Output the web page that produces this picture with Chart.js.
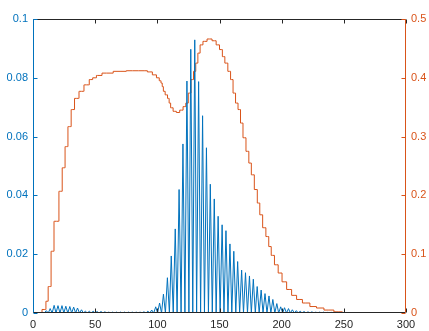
<!DOCTYPE html>
<html>
<head>
<meta charset="utf-8">
<script src="https://cdn.jsdelivr.net/npm/chart.js@4/dist/chart.umd.min.js"></script>
<style>
  html, body { margin: 0; padding: 0; background: #fff; }
</style>
</head>
<body>
<canvas id="chart" width="429" height="331"></canvas>
<script>
// blue series (left axis): narrow spikes, zero between them
var peakX = [1.3, 4.4, 7.6, 10.7, 13.8, 17.0, 20.1, 23.3, 26.4, 29.6,
  32.7, 35.8, 39.0, 42.1, 45.3, 48.4, 51.5, 54.7, 57.8, 61.0,
  64.1, 67.2, 70.4, 73.5, 76.7, 79.8, 83.0, 86.1, 89.2, 92.4,
  95.5, 98.7, 101.8, 104.9, 108.1, 111.2, 114.4, 117.5, 120.6, 123.8,
  126.9, 130.1, 133.2, 136.4, 139.5, 142.6, 145.8, 148.9, 152.1, 155.2,
  158.4, 161.5, 164.6, 167.8, 170.9, 174.1, 177.2, 180.3, 183.5, 186.6,
  189.8, 192.9, 196.1, 199.2, 202.3, 205.5, 208.6, 211.8, 214.9, 218.0,
  221.2, 224.3, 227.5, 230.6, 233.8, 236.9, 240.0, 243.2, 246.3, 249.5];
var peakY = [0, 0, 0.0002, 0.0008, 0.0015, 0.0026, 0.0025, 0.0025, 0.0023, 0.0022,
  0.002, 0.0017, 0.0011, 0.0006, 0.0006, 0.0006, 0.0005, 0.0005, 0.0004, 0.0003,
  0.0003, 0.0003, 0.0003, 0.0003, 0.0003, 0.0003, 0.0003, 0.0003, 0.0004, 0.0006,
  0.001, 0.0021, 0.0034, 0.0064, 0.012, 0.0194, 0.0286, 0.042, 0.0575, 0.0789,
  0.0897, 0.0929, 0.0787, 0.0671, 0.0562, 0.0438, 0.0388, 0.0329, 0.030, 0.028,
  0.0235, 0.021, 0.0175, 0.0146, 0.0137, 0.0126, 0.0115, 0.009, 0.0078, 0.0066,
  0.0058, 0.0046, 0.0032, 0.0021, 0.0018, 0.0015, 0.0011, 0.0008, 0.0006, 0.0005,
  0.0004, 0.0004, 0.0003, 0.0003, 0.0003, 0.0002, 0.0002, 0.0002, 0.0001, 0.0001];
var valleyX = [0, 2.8, 6.0, 9.1, 12.3, 15.4, 18.5, 21.7, 24.8, 28.0,
  31.1, 34.3, 37.4, 40.5, 43.7, 46.8, 50.0, 53.1, 56.2, 59.4,
  62.5, 65.7, 68.8, 72.0, 75.1, 78.2, 81.4, 84.5, 87.7, 90.8,
  93.9, 97.1, 100.2, 103.4, 106.5, 109.7, 112.8, 115.9, 119.1, 122.2,
  125.4, 128.5, 131.6, 134.8, 137.9, 141.1, 144.2, 147.3, 150.5, 153.6,
  156.8, 159.9, 163.1, 166.2, 169.3, 172.5, 175.6, 178.8, 181.9, 185.0,
  188.2, 191.3, 194.5, 197.6, 200.8, 203.9, 207.0, 210.2, 213.3, 216.5,
  219.6, 222.7, 225.9, 229.0, 232.2, 235.3, 238.5, 241.6, 244.7, 247.9, 251.0, 256];

// orange series (right axis)
var orangeX = [0, 5, 9.5, 10.3, 10.5, 12, 12.4, 14.3, 14.8, 16.6, 17.2, 20.5, 21.2, 23.2,
  23.8, 25.5, 26.1, 27.8, 28.4, 30.4, 31, 33, 33.8, 36.5, 37.5, 40.5, 41.5, 44.5,
  46, 50, 52, 59, 70, 80, 90, 94, 98, 100.6, 102.5, 103.4, 104.5, 105.2, 107.4,
  109, 110, 111.4, 114, 116.6, 119.4, 122, 123.8, 126, 128.2, 130, 131.8, 133.4,
  135.4, 138, 142, 146, 148.6, 151.4, 153.2, 155.4, 158, 159.8, 162, 163.8, 166,
  167.8, 170, 172.6, 174.6, 176.6, 179.4, 181.4, 183.4, 186, 188.6, 190.6, 192.6,
  195.8, 198.6, 202, 206, 210, 214, 219.4, 226, 230, 238, 246, 251.6, 256];
var orangeY = [0, 0, 0.006, 0.006, 0.02, 0.02, 0.045, 0.045, 0.105, 0.105, 0.156, 0.156, 0.207, 0.207,
  0.247, 0.247, 0.283, 0.283, 0.317, 0.317, 0.346, 0.346, 0.365, 0.365, 0.377, 0.377, 0.388, 0.388,
  0.397, 0.40, 0.404, 0.408, 0.411, 0.412, 0.412, 0.41, 0.405, 0.40, 0.395, 0.391, 0.385, 0.377, 0.371,
  0.365, 0.357, 0.349, 0.343, 0.341, 0.345, 0.351, 0.357, 0.374, 0.397, 0.411, 0.425, 0.442,
  0.456, 0.462, 0.466, 0.463, 0.456, 0.448, 0.436, 0.425, 0.411, 0.397, 0.374, 0.357, 0.346,
  0.323, 0.298, 0.275, 0.255, 0.235, 0.21, 0.187, 0.167, 0.145, 0.13, 0.113, 0.098,
  0.082, 0.068, 0.053, 0.04, 0.03, 0.023, 0.017, 0.011, 0.0085, 0.005, 0.002, 0, 0];

var xTicks = [0, 50, 100, 150, 200, 250, 300];
var leftTicks = [0, 0.02, 0.04, 0.06, 0.08, 0.1];
var rightTicks = [0, 0.1, 0.2, 0.3, 0.4, 0.5];

var blue = "#0072BD";
var orange = "#D95319";
var dark = "#262626";
var font = { family: "'Liberation Sans', Arial, sans-serif", size: 11 };

var bluePts = [];
for (var i = 0; i < peakX.length; i++) {
  bluePts.push({ x: valleyX[i], y: 0 });
  bluePts.push({ x: peakX[i], y: peakY[i] });
}
for (var j = peakX.length; j < valleyX.length; j++) {
  bluePts.push({ x: valleyX[j], y: 0 });
}

var orangePts = orangeX.map(function (x, k) {
  return { x: x, y: orangeY[k] };
});

function fixedTicks(list) {
  return function (scale) {
    scale.ticks = list.map(function (v) { return { value: v }; });
  };
}

// matlab style number labels: 0, 0.02, 0.1
function shortNum(value) {
  return String(parseFloat(Number(value).toFixed(3)));
}

// MATLAB-style box: inward ticks, coloured y axes
var boxPlugin = {
  id: "boxPlugin",
  afterDatasetsDraw: function (chart) {
    var c = chart.ctx;
    var a = chart.chartArea;
    var sx = chart.scales.x, sl = chart.scales.y, sr = chart.scales.y1;
    var L = Math.round(a.left) + 0.5, R = Math.round(a.right) - 0.5;
    var T = Math.round(a.top) + 0.5, B = Math.round(a.bottom) - 0.5;
    var len = 4;
    c.save();
    c.lineWidth = 1;

    c.strokeStyle = dark;
    c.beginPath();
    c.moveTo(L, T); c.lineTo(R, T);
    c.moveTo(L, B); c.lineTo(R, B);
    xTicks.forEach(function (v) {
      var px = Math.round(sx.getPixelForValue(v)) + 0.5;
      c.moveTo(px, B); c.lineTo(px, B - len);
      c.moveTo(px, T); c.lineTo(px, T + len);
    });
    c.stroke();

    c.strokeStyle = blue;
    c.beginPath();
    c.moveTo(L, T); c.lineTo(L, B);
    leftTicks.forEach(function (v) {
      var py = Math.round(sl.getPixelForValue(v)) + 0.5;
      c.moveTo(L, py); c.lineTo(L + len, py);
    });
    c.stroke();

    c.strokeStyle = orange;
    c.beginPath();
    c.moveTo(R, T); c.lineTo(R, B);
    rightTicks.forEach(function (v) {
      var py = Math.round(sr.getPixelForValue(v)) + 0.5;
      c.moveTo(R, py); c.lineTo(R - len, py);
    });
    c.stroke();
    c.restore();
  }
};

new Chart(document.getElementById("chart").getContext("2d"), {
  type: "line",
  data: {
    datasets: [
      {
        label: "blue",
        data: bluePts,
        yAxisID: "y",
        borderColor: blue,
        borderWidth: 1,
        pointRadius: 0,
        tension: 0,
        fill: false,
      },
      {
        label: "orange",
        data: orangePts,
        yAxisID: "y1",
        borderColor: orange,
        borderWidth: 1,
        pointRadius: 0,
        stepped: "middle",
        fill: false,
      },
    ],
  },
  options: {
    responsive: false,
    animation: false,
    layout: { padding: { top: 19, left: 0, right: 0, bottom: 0 } },
    plugins: {
      legend: { display: false },
      tooltip: { enabled: false },
    },
    scales: {
      x: {
        type: "linear",
        min: 0,
        max: 300,
        afterBuildTicks: fixedTicks(xTicks),
        afterFit: function (s) { s.height = 18; },
        grid: { display: false, drawTicks: false },
        border: { display: false },
        ticks: { color: dark, font: font, padding: 5, maxRotation: 0, callback: shortNum },
      },
      y: {
        type: "linear",
        position: "left",
        min: 0,
        max: 0.1,
        afterBuildTicks: fixedTicks(leftTicks),
        afterFit: function (s) { s.width = 33; },
        grid: { display: false, drawTicks: false },
        border: { display: false },
        ticks: { color: blue, font: font, padding: 5, callback: shortNum },
      },
      y1: {
        type: "linear",
        position: "right",
        min: 0,
        max: 0.5,
        afterBuildTicks: fixedTicks(rightTicks),
        afterFit: function (s) { s.width = 23; },
        grid: { display: false, drawTicks: false },
        border: { display: false },
        ticks: { color: orange, font: font, padding: 5, callback: shortNum },
      },
    },
  },
  plugins: [boxPlugin],
});
</script>
</body>
</html>
